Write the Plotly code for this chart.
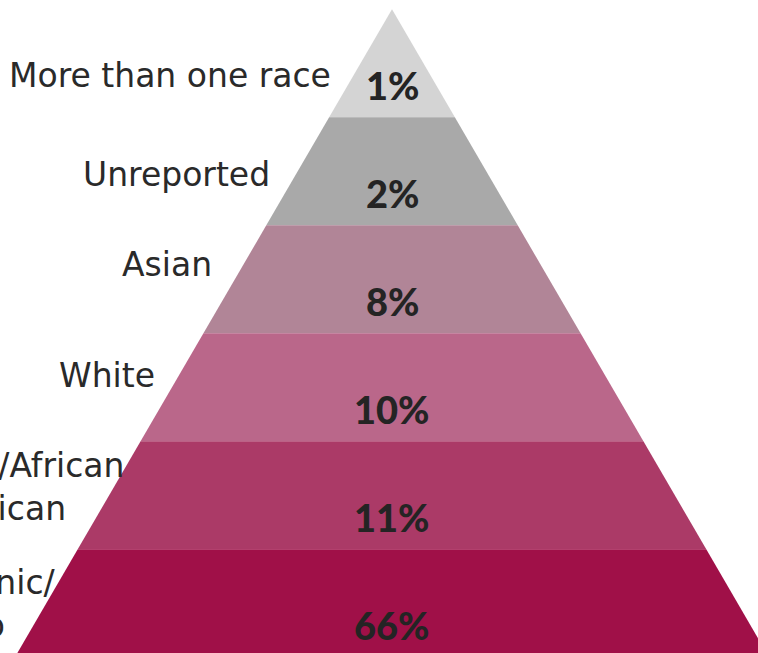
import plotly.graph_objects as go

# ---- data (top of pyramid first) ----
categories = ["More than one race", "Unreported", "Asian", "White",
              "Black/African<br>American", "Hispanic/<br>Latino"]
percent_values = [1, 2, 8, 10, 11, 66]
band_colors = ["#d4d4d4", "#a9a9a9", "#b18597", "#ba678a", "#ab3a67", "#a01048"]

# ---- geometry / layout parameters (pixels in a 758x653 canvas) ----
W, H = 758, 653
APEX_X, APEX_Y = 392, 9.3
BAND_H = 108.0
SLOPE = 0.582            # half-width per unit of depth
PCT_OFFSET = 76          # percent label position below band top
label_right = [333, 272, 214, 157, 126, 58]
label_y = [75, 174.5, 264.5, 375, 486.5, 603.5]

fig = go.Figure()

for i, (cat, val, col) in enumerate(zip(categories, percent_values, band_colors)):
    y0 = APEX_Y + i * BAND_H
    y1 = y0 + BAND_H
    d0 = (y0 - APEX_Y) * SLOPE
    d1 = (y1 - APEX_Y) * SLOPE
    xs = [APEX_X - d0, APEX_X + d0, APEX_X + d1, APEX_X - d1, APEX_X - d0]
    ys = [y0, y0, y1, y1, y0]
    fig.add_trace(go.Scatter(
        x=xs, y=ys, mode="lines", fill="toself", fillcolor=col,
        line=dict(width=0, color=col), hoverinfo="text",
        text=f"{cat.replace('<br>', ' ')}: {val}%", showlegend=False))
    fig.add_annotation(
        x=APEX_X, y=y0 + PCT_OFFSET, xref="x", yref="y",
        text=f"{val}%", showarrow=False,
        xanchor="center", yanchor="middle",
        font=dict(family="Lato, Inter, sans-serif", size=38, color="#242424",
                  weight=900))
    fig.add_annotation(
        x=label_right[i], y=label_y[i], xref="x", yref="y",
        text=cat, showarrow=False, xanchor="right", yanchor="middle",
        align="left",
        font=dict(family="DejaVu Sans, sans-serif", size=33, color="#2a2a2a"))

fig.update_layout(
    width=W, height=H,
    margin=dict(l=0, r=0, t=0, b=0),
    paper_bgcolor="white", plot_bgcolor="white",
    xaxis=dict(range=[0, W], visible=False, fixedrange=True),
    yaxis=dict(range=[H, 0], visible=False, fixedrange=True),
    showlegend=False,
)

fig.write_html(
    "out.html",
    config={"displayModeBar": False},
    post_script="document.body.style.margin='0';document.body.style.overflow='hidden';",
)
